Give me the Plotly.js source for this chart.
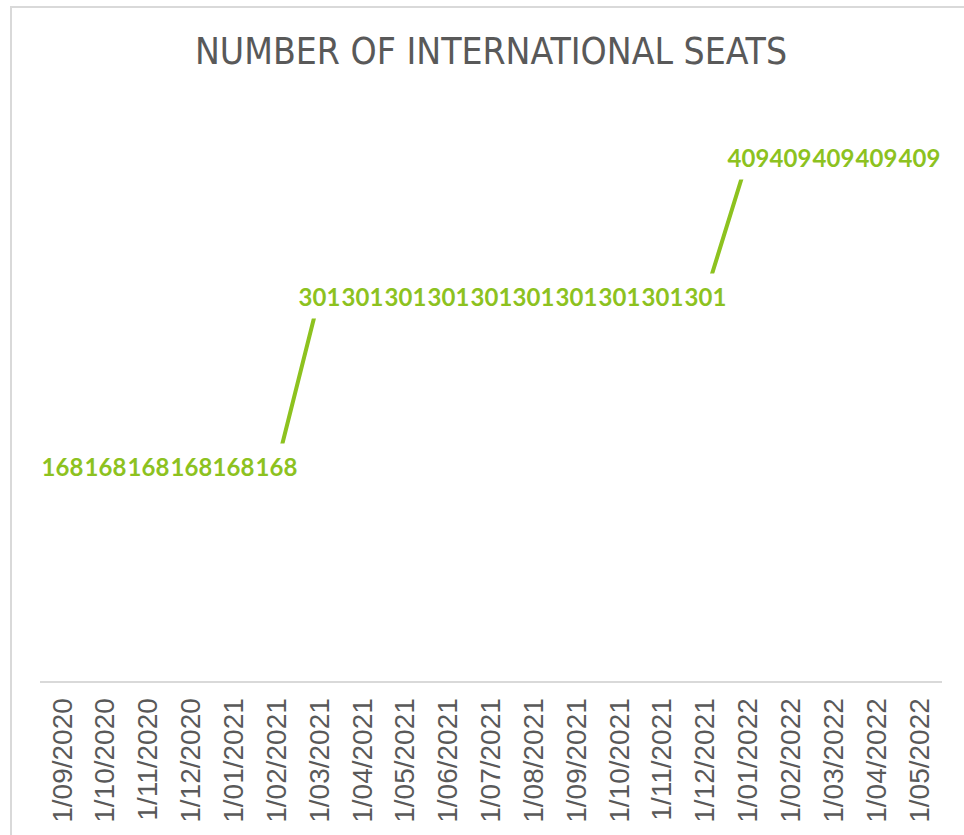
<!DOCTYPE html>
<html>
<head>
<meta charset="utf-8">
<script src="https://cdn.plot.ly/plotly-3.0.1.min.js"></script>
<style>
html, body { margin: 0; padding: 0; overflow: hidden; background: #ffffff; }
#frame { position: absolute; left: 10px; top: 6px; width: 1000px; height: 900px; border: 2px solid #d9d9d9; box-sizing: border-box; }
#chart { position: absolute; left: 0; top: 0; width: 964px; height: 835px; }
</style>
</head>
<body>
<div id="frame"></div>
<div id="chart"></div>
<script>
const categories = ['1/09/2020','1/10/2020','1/11/2020','1/12/2020','1/01/2021','1/02/2021','1/03/2021','1/04/2021','1/05/2021','1/06/2021','1/07/2021','1/08/2021','1/09/2021','1/10/2021','1/11/2021','1/12/2021','1/01/2022','1/02/2022','1/03/2022','1/04/2022','1/05/2022'];
const seats = [168,168,168,168,168,168,301,301,301,301,301,301,301,301,301,301,409,409,409,409,409];
const titleText = 'NUMBER OF INTERNATIONAL SEATS';

const green = '#8DC21F';

const trace = {
  type: 'scatter',
  mode: 'lines',
  x: categories,
  y: seats,
  line: { color: green, width: 4 },
  hoverinfo: 'skip'
};

const annotations = categories.map((c, i) => ({
  xref: 'x', yref: 'y', x: c, y: seats[i],
  text: String(seats[i]),
  showarrow: false,
  xanchor: 'center', yanchor: 'middle',
  bgcolor: '#ffffff',
  width: 43, height: 44, borderpad: 0,
  font: { family: 'Lato, "Open Sans", sans-serif', size: 24, color: green, weight: 700 }
}));

const layout = {
  width: 964, height: 835,
  margin: { l: 40, r: 22, t: 105, b: 154 },
  paper_bgcolor: 'rgba(0,0,0,0)',
  plot_bgcolor: 'rgba(0,0,0,0)',
  showlegend: false,
  title: {
    text: titleText,
    font: { family: '"Liberation Sans Narrow", "DejaVu Sans Condensed", "Liberation Sans", sans-serif', size: 37, color: '#595959' },
    x: 491/964, xanchor: 'center', xref: 'container',
    y: 1 - 51/835, yanchor: 'middle', yref: 'container'
  },
  xaxis: {
    type: 'category',
    categoryorder: 'array', categoryarray: categories,
    showline: true, linecolor: '#d9d9d9', linewidth: 2,
    showgrid: false, zeroline: false,
    ticks: '', tickangle: -90,
    ticklabelstandoff: 4,
    tickfont: { family: '"Liberation Sans", Arial, sans-serif', size: 28, color: '#595959' }
  },
  yaxis: {
    range: [0, 450],
    visible: false,
    showgrid: false, zeroline: false, showticklabels: false
  },
  annotations: annotations
};

Plotly.newPlot('chart', [trace], layout, { displayModeBar: false, staticPlot: true });
</script>
</body>
</html>
